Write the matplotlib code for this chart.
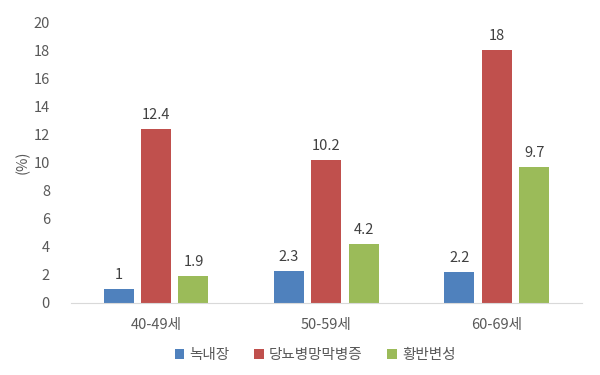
import matplotlib
matplotlib.use("Agg")
import matplotlib.pyplot as plt
import numpy as np

plt.rcParams['font.family'] = ['Noto Sans CJK KR', 'DejaVu Sans']

categories = ['40-49세', '50-59세', '60-69세']
series_names = ['녹내장', '당뇨병망막병증', '황반변성']
glaucoma = [1, 2.3, 2.2]
retinopathy = [12.4, 10.2, 18]
macular = [1.9, 4.2, 9.7]
colors = ['#4F81BD', '#C0504D', '#9BBB59']
yticks = list(range(0, 21, 2))

fig = plt.figure(figsize=(6, 3.75), dpi=100)
ax = fig.add_axes([0.118, 0.192, 0.852, 0.749])

x = np.arange(len(categories))
width = 0.176
step = 0.22
textc = '#595959'
fs = 10.5
for i, (vals, name, c) in enumerate(zip([glaucoma, retinopathy, macular], series_names, colors)):
    pos = x + (i - 1) * step
    ax.bar(pos, vals, width, color=c, label=name)
    for p, v in zip(pos, vals):
        ax.text(p, v + 0.5, f'{v:g}', ha='center', va='bottom', fontsize=fs, color='#404040')

ax.set_xlim(-0.5, 2.5)
ax.set_ylim(0, 20)
ax.set_yticks(yticks)
ax.set_xticks(x)
ax.set_xticklabels(categories)
ax.tick_params(axis='both', length=0, colors=textc, labelsize=fs)
ax.tick_params(axis='x', pad=11)
ax.tick_params(axis='y', pad=15)
for s in ['top', 'right', 'left']:
    ax.spines[s].set_visible(False)
ax.spines['bottom'].set_color('#D9D9D9')
ax.set_ylabel('(%)', color=textc, fontsize=fs, labelpad=3)

ax.legend(loc='upper center', bbox_to_anchor=(0.478, -0.115), ncol=3, frameon=False,
          fontsize=fs, handlelength=0.65, handleheight=0.65, handletextpad=0.35,
          columnspacing=1.7, labelcolor=textc)

fig.savefig('out.png', dpi=100)
